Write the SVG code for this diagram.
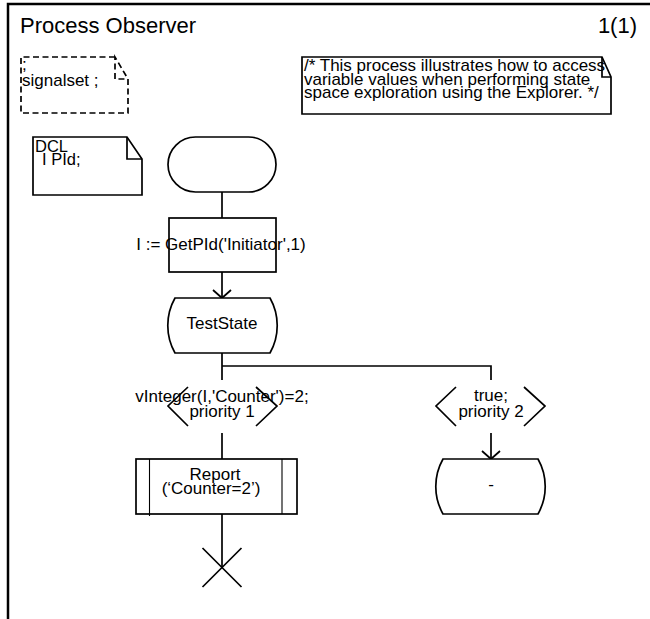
<svg xmlns="http://www.w3.org/2000/svg" width="650" height="619" viewBox="0 0 650 619">
  <style>
    text { font-family: "Liberation Sans", Arial, sans-serif; font-size: 17px; fill: #000; }
    .mid { text-anchor: middle; }
    .title { font-size: 22px; }
    .small { font-size: 16.5px; }
    .sym { fill: #fff; stroke: #000; stroke-width: 1.7; }
    .line { fill: none; stroke: #000; stroke-width: 1.7; }
    .thin { fill: none; stroke: #000; stroke-width: 1.1; }
    .dash { fill: none; stroke: #000; stroke-width: 1.7; stroke-dasharray: 6 3.5; }
    .frame { fill: none; stroke: #000; stroke-width: 2.5; }
  </style>
  <defs>
    <marker id="arrow" viewBox="-10 -10 20 20" refX="0" refY="0" markerWidth="20" markerHeight="20" markerUnits="userSpaceOnUse" orient="auto">
      <path d="M-8,-9 L0,0 L-8,9" fill="none" stroke="#000" stroke-width="1.7"/>
    </marker>
  </defs>

  <rect width="650" height="619" fill="#fff"/>

  <!-- page frame and heading -->
  <g id="frame">
    <path class="frame" d="M8,619 V4 H650"/>
    <text class="title" x="20" y="33">Process Observer</text>
    <text class="title" x="637" y="33" text-anchor="end">1(1)</text>
  </g>

  <!-- signal set text symbol -->
  <g id="signalset">
    <path class="dash" d="M115,57 H21 V113 H128 V79 L115,57 V79 H128"/>
    <text x="22" y="70">;</text>
    <text x="22" y="86">signalset ;</text>
  </g>

  <!-- comment -->
  <g id="comment">
    <path class="sym" d="M302,57 H602 L611,77 V114 H302 Z"/>
    <path class="line" d="M602,57 V77 H611"/>
    <text x="304" y="71">/* This process illustrates how to access</text>
    <text x="304" y="85">variable values when performing state</text>
    <text x="304" y="98">space exploration using the Explorer. */</text>
  </g>

  <!-- declarations -->
  <g id="dcl">
    <path class="sym" d="M33,137 H127 L142,159 V195 H33 Z"/>
    <path class="line" d="M127,137 V159 H142"/>
    <text class="small" x="35" y="152">DCL</text>
    <text class="small" x="42" y="165">I PId;</text>
  </g>

  <!-- connectors -->
  <g id="connectors">
    <path class="line" d="M222,192 V218"/>
    <path class="line" d="M222,272 V298" marker-end="url(#arrow)"/>
    <path class="line" d="M222,353 V380 M222,366 H491 V380"/>
    <path class="line" d="M222,433 V459"/>
    <path class="line" d="M491,433 V459" marker-end="url(#arrow)"/>
    <path class="line" d="M222,514 V567"/>
  </g>

  <!-- start -->
  <g id="start">
    <rect class="sym" x="168" y="137" width="108" height="55" rx="27.5"/>
  </g>

  <!-- task -->
  <g id="task">
    <rect class="sym" x="169" y="218" width="107" height="54"/>
    <text class="mid" x="221" y="250">I := GetPId('Initiator',1)</text>
  </g>

  <!-- state TestState -->
  <g id="state-teststate">
    <path class="sym" d="M175,298 H270 A56,56 0 0 1 270,353 H175 A56,56 0 0 1 175,298 Z"/>
    <text class="mid" x="222" y="329">TestState</text>
  </g>

  <!-- priority input 1 -->
  <g id="input-1">
    <path class="line" d="M188,387 L168,406 L188,426 M256,387 L277,406 L256,426"/>
    <text class="mid" x="222" y="402">vInteger(I,'Counter')=2;</text>
    <text class="mid" x="222" y="417">priority 1</text>
  </g>

  <!-- priority input 2 -->
  <g id="input-2">
    <path class="line" d="M456,387 L436,406 L456,426 M524,387 L545,406 L524,426"/>
    <text class="mid" x="491" y="401">true;</text>
    <text class="mid" x="491" y="417">priority 2</text>
  </g>

  <!-- procedure call Report -->
  <g id="call-report">
    <rect class="sym" x="136" y="459" width="161" height="55"/>
    <path class="thin" d="M149.5,459 V516 M282,459 V514"/>
    <text class="mid" x="215" y="480">Report</text>
    <text class="mid" x="211" y="494">(‘Counter=2’)</text>
  </g>

  <!-- stop -->
  <g id="stop">
    <path class="line" d="M202.5,548 L241.5,587 M241.5,548 L202.5,587"/>
  </g>

  <!-- next state "-" -->
  <g id="state-dash">
    <path class="sym" d="M443,459 H538 A56,56 0 0 1 538,514 H443 A56,56 0 0 1 443,459 Z"/>
    <text class="mid" x="491" y="490">-</text>
  </g>
</svg>
